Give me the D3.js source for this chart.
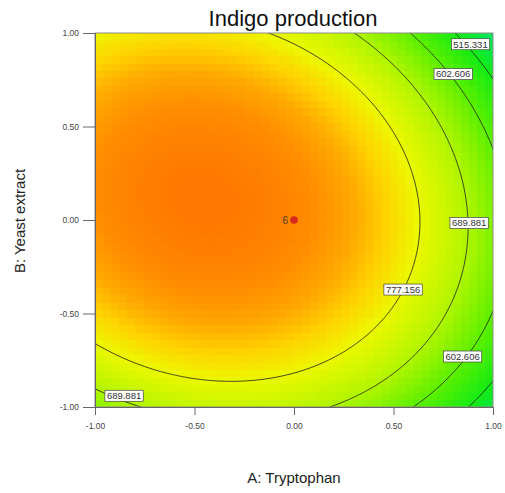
<!DOCTYPE html>
<html>
<head>
<meta charset="utf-8">
<script src="https://cdn.jsdelivr.net/npm/d3@7/dist/d3.min.js"></script>
<style>
  html, body { margin: 0; padding: 0; background: #fff; }
  svg { display: block; font-family: "Liberation Sans", Arial, sans-serif; }
</style>
</head>
<body>
<svg id="chart" width="505" height="493"></svg>
<script>
// Quadratic response-surface model for indigo production (coded factors A, B)
const modelTerms = ["Intercept", "A", "B", "AB", "A^2", "B^2"];
const modelCoefs = [922.0, -132.7, 23.1, -43.0, -152.0, -188.0];

// Contour levels and where each level is labelled (coded units)
const contourLevels = [515.331, 602.606, 689.881, 777.156];
const labelLevels = [515.331, 602.606, 689.881, 777.156, 602.606, 689.881];
const labelA = [0.887, 0.80, 0.88, 0.548, 0.847, -0.854];
const labelB = [0.94, 0.78, -0.016, -0.372, -0.73, -0.94];

// Design points (center point replicated 6 times)
const designA = [0];
const designB = [0];
const designReps = [6];

// Axis ticks
const tickValues = [-1, -0.5, 0, 0.5, 1];
const tickLabels = ["-1.00", "-0.50", "0.00", "0.50", "1.00"];

// Colour ramp of the response
const rampValues = [430, 515, 600, 690, 780, 830, 870, 910, 955];
const rampColors = ["#00e66e", "#14eb14", "#5aef00", "#aff500", "#ecf800", "#ffd200", "#ffa800", "#ff8c00", "#ff7800"];

function predict(a, b) {
  const c = modelCoefs;
  return c[0] + c[1] * a + c[2] * b + c[3] * a * b + c[4] * a * a + c[5] * b * b;
}

(function draw() {
  const svg = d3.select("#chart");
  const pLeft = 95, pRight = 493, pTop = 33, pBottom = 407;

  const x = d3.scaleLinear().domain([-1, 1]).range([pLeft, pRight]);
  const y = d3.scaleLinear().domain([-1, 1]).range([pBottom, pTop]);
  const color = d3.scaleLinear().domain(rampValues).range(rampColors).clamp(true);

  svg.append("defs").append("clipPath").attr("id", "plotClip")
    .append("rect").attr("x", pLeft).attr("y", pTop)
    .attr("width", pRight - pLeft).attr("height", pBottom - pTop);

  // Heat map cells
  const nCells = 50;
  const cellSize = 2 / nCells;
  const cells = [];
  for (let j = 0; j < nCells; j++) {
    for (let i = 0; i < nCells; i++) {
      const a0 = -1 + i * cellSize, b0 = -1 + j * cellSize;
      cells.push({ a0, b0, v: predict(a0 + cellSize / 2, b0 + cellSize / 2) });
    }
  }
  svg.append("g").attr("clip-path", "url(#plotClip)")
    .selectAll("rect").data(cells).join("rect")
    .attr("x", d => x(d.a0))
    .attr("y", d => y(d.b0 + cellSize))
    .attr("width", d => x(d.a0 + cellSize) - x(d.a0) + 0.6)
    .attr("height", d => y(d.b0) - y(d.b0 + cellSize) + 0.6)
    .attr("fill", d => color(d.v))
    .attr("shape-rendering", "crispEdges");

  // Contour lines on a grid that extends past the plot, clipped to the frame
  const g0 = -1.2, step = 0.01;
  const n = Math.round((1.2 - g0) / step) + 1;
  const grid = new Array(n * n);
  for (let j = 0; j < n; j++) {
    for (let i = 0; i < n; i++) {
      grid[j * n + i] = predict(g0 + i * step, g0 + j * step);
    }
  }
  const contours = d3.contours().size([n, n]).thresholds(contourLevels)(grid);
  const proj = d3.geoTransform({
    point(px, py) {
      this.stream.point(x(g0 + (px - 0.5) * step), y(g0 + (py - 0.5) * step));
    }
  });
  svg.append("g").attr("clip-path", "url(#plotClip)")
    .selectAll("path").data(contours).join("path")
    .attr("d", d3.geoPath(proj))
    .attr("fill", "none")
    .attr("stroke", "#1a1a1a")
    .attr("stroke-width", 0.8);

  // Plot frame
  svg.append("rect")
    .attr("x", pLeft).attr("y", pTop)
    .attr("width", pRight - pLeft).attr("height", pBottom - pTop)
    .attr("fill", "none").attr("stroke", "#8c8c8c").attr("stroke-width", 1);

  // Contour labels
  const labels = svg.append("g");
  labelLevels.forEach((lv, k) => {
    const cx = x(labelA[k]), cy = y(labelB[k]);
    const g = labels.append("g");
    const t = g.append("text")
      .attr("x", cx).attr("y", cy + 3.3)
      .attr("text-anchor", "middle")
      .attr("font-size", 9.5)
      .attr("fill", "#333")
      .text(lv.toFixed(3));
    const w = t.node().getComputedTextLength() + 4;
    g.insert("rect", "text")
      .attr("x", cx - w / 2).attr("y", cy - 5.5)
      .attr("width", w).attr("height", 11)
      .attr("fill", "#fff").attr("stroke", "#444").attr("stroke-width", 0.7);
  });

  // Design points
  designA.forEach((a, k) => {
    svg.append("circle")
      .attr("cx", x(a)).attr("cy", y(designB[k])).attr("r", 3.8)
      .attr("fill", "#d42a1c");
    svg.append("text")
      .attr("x", x(a) - 6).attr("y", y(designB[k]) + 3.5)
      .attr("text-anchor", "end")
      .attr("font-size", 10)
      .attr("fill", "#4a3a20")
      .text(designReps[k]);
  });

  // Axes
  const xAxis = d3.axisBottom(x).tickValues(tickValues)
    .tickFormat((d, i) => tickLabels[i]).tickSize(8).tickPadding(8);
  const yAxis = d3.axisLeft(y).tickValues(tickValues)
    .tickFormat((d, i) => tickLabels[i]).tickSize(12).tickPadding(4);

  const gx = svg.append("g").attr("transform", `translate(0,${pBottom})`).call(xAxis);
  const gy = svg.append("g").attr("transform", `translate(${pLeft},0)`).call(yAxis);
  [gx, gy].forEach(g => {
    g.select(".domain").attr("stroke", "#666");
    g.selectAll(".tick line").attr("stroke", "#666");
    g.selectAll(".tick text").attr("fill", "#444")
      .attr("font-size", 8.5)
      .attr("font-family", "'Liberation Sans', Arial, sans-serif");
  });

  // Titles
  svg.append("text")
    .attr("x", 293).attr("y", 26)
    .attr("text-anchor", "middle")
    .attr("font-size", 22)
    .attr("fill", "#111")
    .text("Indigo production");

  svg.append("text")
    .attr("x", 294).attr("y", 483)
    .attr("text-anchor", "middle")
    .attr("font-size", 15)
    .attr("fill", "#222")
    .text("A: Tryptophan");

  svg.append("text")
    .attr("transform", "translate(25,221) rotate(-90)")
    .attr("text-anchor", "middle")
    .attr("font-size", 15)
    .attr("fill", "#222")
    .text("B: Yeast extract");
})();
</script>
</body>
</html>
